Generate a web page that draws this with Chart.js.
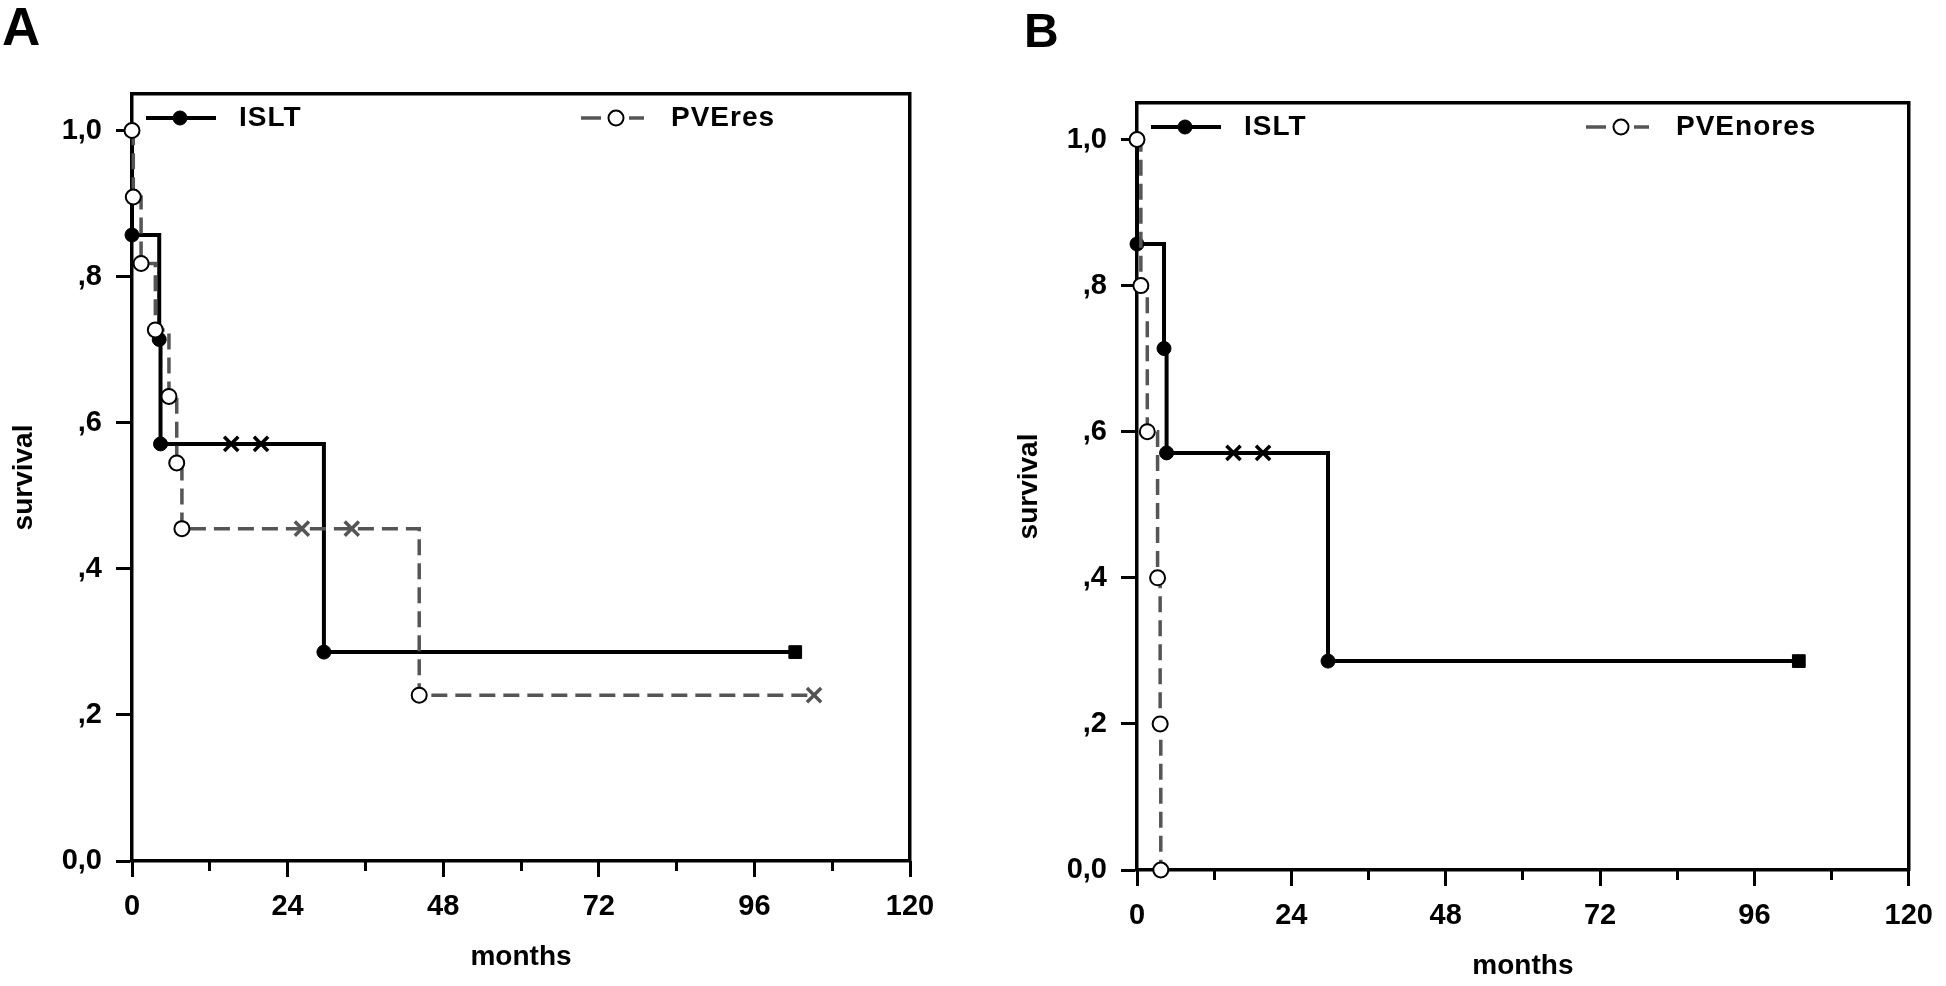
<!DOCTYPE html>
<html>
<head>
<meta charset="utf-8">
<title>Survival: ISLT vs PVE</title>
<script src="https://cdn.jsdelivr.net/npm/chart.js@4.4.1/dist/chart.umd.min.js"></script>
<style>
  html, body { margin: 0; padding: 0; background: #fff; overflow: hidden; }
  body { width: 1946px; height: 986px; position: relative; font-family: "Liberation Sans", Arial, sans-serif; }
  canvas { position: absolute; }
  .letter { position: absolute; font-weight: bold; line-height: 1; color: #000; }
</style>
</head>
<body>
<canvas id="chartA" width="975" height="986" style="left:0;top:0"></canvas>
<canvas id="chartB" width="941" height="986" style="left:1005px;top:9px"></canvas>
<div class="letter" style="left:2px;top:0;font-size:53px">A</div>
<div class="letter" style="left:1024px;top:7px;font-size:48px">B</div>
<script>
"use strict";

// tick labels
const xTickLabels = ["0", "24", "48", "72", "96", "120"];
const yTickLabels = ["0,0", ",2", ",4", ",6", ",8", "1,0"];

// panel A - ISLT
const islA_months = [0, 0, 4.2, 4.4, 15.3, 19.9, 29.6, 102.3];
const islA_surv   = [1.0, 0.857, 0.714, 0.571, 0.571, 0.571, 0.286, 0.286];
const islA_kind   = ["none", "event", "event", "event", "censor", "censor", "event", "end"];
// panel A - PVEres
const pveA_months = [0, 0.2, 1.4, 3.6, 5.7, 6.9, 7.7, 26.2, 33.9, 44.3, 105.2];
const pveA_surv   = [1.0, 0.909, 0.818, 0.727, 0.636, 0.545, 0.455, 0.455, 0.455, 0.227, 0.227];
const pveA_kind   = ["event", "event", "event", "event", "event", "event", "event", "censor", "censor", "event", "censor"];

// panel B - ISLT
const islB_months = [0, 0, 4.2, 4.6, 15.0, 19.6, 29.7, 102.9];
const islB_surv   = [1.0, 0.857, 0.714, 0.571, 0.571, 0.571, 0.286, 0.286];
const islB_kind   = ["none", "event", "event", "event", "censor", "censor", "event", "end"];
// panel B - PVEnores
const pveB_months = [0, 0.6, 1.6, 3.2, 3.6, 3.7];
const pveB_surv   = [1.0, 0.8, 0.6, 0.4, 0.2, 0.0];
const pveB_kind   = ["event", "event", "event", "event", "event", "event"];

const ink = "#000";
const grey = "#555";
const family = "'Liberation Sans', Arial, sans-serif";

const islLook = {
    color: ink, width: 4, dash: [],
    marks: {
        none:   { style: "circle",   r: 0, fill: ink, edge: ink, bw: 0 },
        event:  { style: "circle",   r: 7, fill: ink, edge: ink, bw: 1 },
        censor: { style: "crossRot", r: 10, fill: ink, edge: ink, bw: 3.5 },
        end:    { style: "rect",     r: 9, fill: ink, edge: ink, bw: 1 }
    }
};
const pveLook = {
    color: grey, width: 3.5, dash: [16, 8],
    marks: {
        event:  { style: "circle",   r: 7.5, fill: "#fff", edge: ink, bw: 2 },
        censor: { style: "crossRot", r: 10, fill: grey, edge: grey, bw: 3.5 }
    }
};

function kmDataset(label, months, surv, kinds, look, order) {
    const m = kinds.map(k => look.marks[k]);
    return {
        label: label,
        data: months.map((t, i) => ({ x: t, y: surv[i] })),
        xAxisID: "x",
        yAxisID: "y",
        order: order,
        stepped: "before",
        fill: false,
        clip: false,
        borderColor: look.color,
        borderWidth: look.width,
        borderDash: look.dash,
        pointStyle: m.map(p => p.style),
        pointRadius: m.map(p => p.r),
        pointBackgroundColor: m.map(p => p.fill),
        pointBorderColor: m.map(p => p.edge),
        pointBorderWidth: m.map(p => p.bw),
        look: look
    };
}

// legend drawn inside the frame, like the original
const kmLegend = {
    id: "kmLegend",
    afterDatasetsDraw(chart, args, opts) {
        const { ctx, chartArea } = chart;
        const y = chartArea.top + opts.y;
        opts.items.forEach(it => {
            const ds = chart.data.datasets[it.ds];
            const mark = ds.look.marks.event;
            const x0 = chartArea.left + it.x;
            ctx.save();
            ctx.strokeStyle = ds.borderColor;
            ctx.lineWidth = ds.borderWidth;
            ctx.setLineDash(it.dash);
            ctx.beginPath();
            ctx.moveTo(x0, y);
            ctx.lineTo(x0 + it.len, y);
            ctx.stroke();
            ctx.setLineDash([]);
            ctx.fillStyle = mark.fill;
            ctx.strokeStyle = mark.edge;
            ctx.lineWidth = mark.bw;
            Chart.helpers.drawPoint(ctx, { pointStyle: mark.style, radius: mark.r, borderWidth: mark.bw, rotation: 0 }, x0 + it.dot, y);
            ctx.fillStyle = ink;
            ctx.font = "bold 28px " + family;
            ctx.textBaseline = "middle";
            ctx.textAlign = "left";
            ctx.letterSpacing = "1px";
            ctx.fillText(ds.label, chartArea.left + it.text, y);
            ctx.restore();
        });
    }
};

const tickFont = { family: family, size: 29, weight: "bold" };
const titleFont = { family: family, size: 28, weight: "bold" };

function buildChart(id, datasets, padRight) {
    return new Chart(document.getElementById(id), {
        type: "line",
        data: { datasets: datasets },
        plugins: [kmLegend],
        options: {
            responsive: false,
            animation: false,
            events: [],
            layout: { padding: { left: 0, top: 94, right: padRight, bottom: 0 } },
            plugins: {
                legend: { display: false },
                tooltip: { enabled: false },
                kmLegend: {
                    y: 24,
                    items: [
                        { ds: 0, x: 14, len: 70, dot: 34, text: 107, dash: [] },
                        { ds: 1, x: 449, len: 63, dot: 35, text: 539, dash: [20, 28, 15] }
                    ]
                }
            },
            scales: {
                x: {
                    type: "linear", position: "bottom", weight: 1, min: 0, max: 120,
                    border: { display: true, color: ink, width: 3.5 },
                    grid: { drawOnChartArea: false, drawTicks: true, tickLength: 16, tickWidth: 3, tickColor: ink },
                    ticks: {
                        stepSize: 24, autoSkip: false, maxRotation: 0, padding: 13, color: ink, font: tickFont,
                        callback: v => xTickLabels[Math.round(v / 24)]
                    },
                    title: { display: true, text: "months", color: ink, font: titleFont, padding: { top: 0, bottom: 12 } },
                    afterFit: s => { s.height = 125; }
                },
                xMinor: {
                    type: "linear", position: "bottom", weight: 0, min: 0, max: 120,
                    border: { display: false },
                    grid: { drawOnChartArea: false, drawTicks: true, tickLength: 10, tickWidth: 3, tickColor: ink },
                    ticks: { display: false, stepSize: 12, autoSkip: false },
                    afterFit: s => { s.height = 0; }
                },
                xTop: {
                    type: "linear", position: "top", display: true,
                    border: { display: true, color: ink, width: 3.5 },
                    grid: { display: false },
                    ticks: { display: false },
                    afterFit: s => { s.height = 0; }
                },
                y: {
                    type: "linear", position: "left", min: 0, max: 1.05,
                    border: { display: true, color: ink, width: 3.5 },
                    grid: { drawOnChartArea: false, drawTicks: true, tickLength: 16, tickWidth: 3, tickColor: ink },
                    ticks: {
                        stepSize: 0.2, autoSkip: false, padding: 14, color: ink, font: tickFont,
                        callback: v => yTickLabels[Math.round(v / 0.2)]
                    },
                    afterBuildTicks: s => { s.ticks = s.ticks.filter(t => t.value <= 1.0001); },
                    title: { display: true, text: "survival", color: ink, font: titleFont, padding: { top: 7, bottom: 0 } },
                    afterFit: s => { s.width = 132; }
                },
                yRight: {
                    type: "linear", position: "right", display: true,
                    border: { display: true, color: ink, width: 3.5 },
                    grid: { display: false },
                    ticks: { display: false },
                    afterFit: s => { s.width = 0; }
                }
            }
        }
    });
}

buildChart("chartA", [
    kmDataset("ISLT", islA_months, islA_surv, islA_kind, islLook, 1),
    kmDataset("PVEres", pveA_months, pveA_surv, pveA_kind, pveLook, 0)
], 65);

buildChart("chartB", [
    kmDataset("ISLT", islB_months, islB_surv, islB_kind, islLook, 1),
    kmDataset("PVEnores", pveB_months, pveB_surv, pveB_kind, pveLook, 0)
], 30);
</script>
</body>
</html>
